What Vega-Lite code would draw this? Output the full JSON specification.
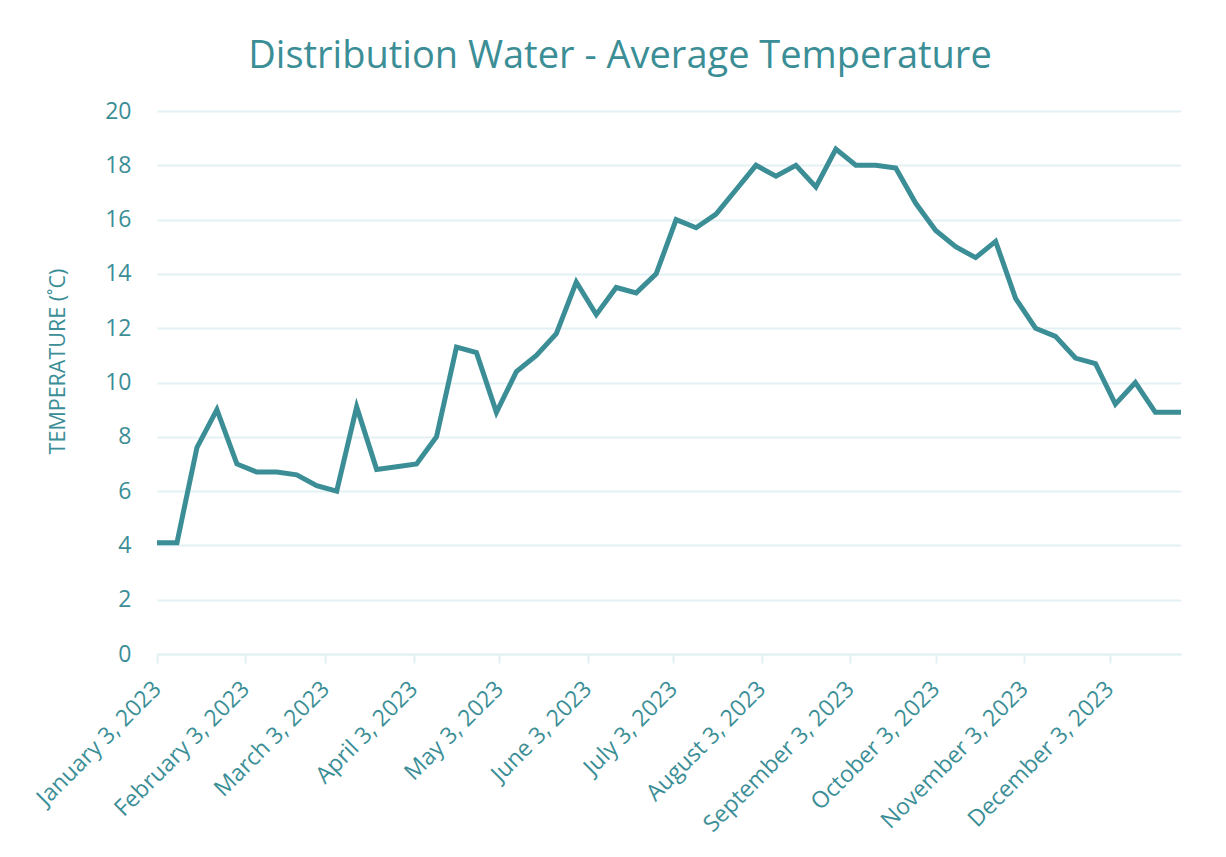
{
  "$schema": "https://vega.github.io/schema/vega-lite/v6.json",
  "autosize": "none",
  "width": 1024,
  "height": 543,
  "padding": {"left": 157, "top": 111, "right": 45, "bottom": 203},
  "background": "white",
  "title": {
    "text": "Distribution Water - Average Temperature",
    "font": "Open Sans",
    "fontSize": 38,
    "fontWeight": "normal",
    "color": "#3b8e96",
    "anchor": "middle",
    "baseline": "alphabetic",
    "offset": -6,
    "dx": -49
  },
  "data": {
    "values": [
      {"date": "2023-01-03T00:00:00", "temp": 4.1},
      {"date": "2023-01-10T00:00:00", "temp": 4.1},
      {"date": "2023-01-17T00:00:00", "temp": 7.6},
      {"date": "2023-01-24T00:00:00", "temp": 9.0},
      {"date": "2023-01-31T00:00:00", "temp": 7.0},
      {"date": "2023-02-07T00:00:00", "temp": 6.7},
      {"date": "2023-02-14T00:00:00", "temp": 6.7},
      {"date": "2023-02-21T00:00:00", "temp": 6.6},
      {"date": "2023-02-28T00:00:00", "temp": 6.2},
      {"date": "2023-03-07T00:00:00", "temp": 6.0},
      {"date": "2023-03-14T00:00:00", "temp": 9.1},
      {"date": "2023-03-21T00:00:00", "temp": 6.8},
      {"date": "2023-03-28T00:00:00", "temp": 6.9},
      {"date": "2023-04-04T00:00:00", "temp": 7.0},
      {"date": "2023-04-11T00:00:00", "temp": 8.0},
      {"date": "2023-04-18T00:00:00", "temp": 11.3},
      {"date": "2023-04-25T00:00:00", "temp": 11.1},
      {"date": "2023-05-02T00:00:00", "temp": 8.9},
      {"date": "2023-05-09T00:00:00", "temp": 10.4},
      {"date": "2023-05-16T00:00:00", "temp": 11.0},
      {"date": "2023-05-23T00:00:00", "temp": 11.8},
      {"date": "2023-05-30T00:00:00", "temp": 13.7},
      {"date": "2023-06-06T00:00:00", "temp": 12.5},
      {"date": "2023-06-13T00:00:00", "temp": 13.5},
      {"date": "2023-06-20T00:00:00", "temp": 13.3},
      {"date": "2023-06-27T00:00:00", "temp": 14.0},
      {"date": "2023-07-04T00:00:00", "temp": 16.0},
      {"date": "2023-07-11T00:00:00", "temp": 15.7},
      {"date": "2023-07-18T00:00:00", "temp": 16.2},
      {"date": "2023-07-25T00:00:00", "temp": 17.1},
      {"date": "2023-08-01T00:00:00", "temp": 18.0},
      {"date": "2023-08-08T00:00:00", "temp": 17.6},
      {"date": "2023-08-15T00:00:00", "temp": 18.0},
      {"date": "2023-08-22T00:00:00", "temp": 17.2},
      {"date": "2023-08-29T00:00:00", "temp": 18.6},
      {"date": "2023-09-05T00:00:00", "temp": 18.0},
      {"date": "2023-09-12T00:00:00", "temp": 18.0},
      {"date": "2023-09-19T00:00:00", "temp": 17.9},
      {"date": "2023-09-26T00:00:00", "temp": 16.6},
      {"date": "2023-10-03T00:00:00", "temp": 15.6},
      {"date": "2023-10-10T00:00:00", "temp": 15.0},
      {"date": "2023-10-17T00:00:00", "temp": 14.6},
      {"date": "2023-10-24T00:00:00", "temp": 15.2},
      {"date": "2023-10-31T00:00:00", "temp": 13.1},
      {"date": "2023-11-07T00:00:00", "temp": 12.0},
      {"date": "2023-11-14T00:00:00", "temp": 11.7},
      {"date": "2023-11-21T00:00:00", "temp": 10.9},
      {"date": "2023-11-28T00:00:00", "temp": 10.7},
      {"date": "2023-12-05T00:00:00", "temp": 9.2},
      {"date": "2023-12-12T00:00:00", "temp": 10.0},
      {"date": "2023-12-19T00:00:00", "temp": 8.9},
      {"date": "2023-12-28T00:00:00", "temp": 8.9}
    ]
  },
  "mark": {"type": "line", "color": "#3b8e96", "strokeWidth": 5, "strokeJoin": "miter", "strokeCap": "butt"},
  "encoding": {
    "x": {
      "field": "date",
      "type": "temporal",
      "scale": {"domain": [{"year": 2023, "month": 1, "date": 3}, {"year": 2023, "month": 12, "date": 28}]},
      "axis": {
        "title": null,
        "values": [
          {"year": 2023, "month": 1, "date": 3},
          {"year": 2023, "month": 2, "date": 3},
          {"year": 2023, "month": 3, "date": 3},
          {"year": 2023, "month": 4, "date": 3},
          {"year": 2023, "month": 5, "date": 3},
          {"year": 2023, "month": 6, "date": 3},
          {"year": 2023, "month": 7, "date": 3},
          {"year": 2023, "month": 8, "date": 3},
          {"year": 2023, "month": 9, "date": 3},
          {"year": 2023, "month": 10, "date": 3},
          {"year": 2023, "month": 11, "date": 3},
          {"year": 2023, "month": 12, "date": 3}
        ],
        "format": "%B %-d, %Y",
        "labelAngle": -45,
        "labelAlign": "right",
        "labelBaseline": "middle",
        "labelFont": "Open Sans",
        "labelFontSize": 23,
        "labelColor": "#3b8e96",
        "labelPadding": 22,
        "labelLimit": 500,
        "labelOverlap": false,
        "labelFlush": false,
        "grid": false,
        "domainColor": "#e3f1f4",
        "domainWidth": 2,
        "tickColor": "#e3f1f4",
        "tickWidth": 2,
        "tickSize": 9
      }
    },
    "y": {
      "field": "temp",
      "type": "quantitative",
      "scale": {"domain": [0, 20], "nice": false},
      "axis": {
        "title": "TEMPERATURE (˚C)",
        "titleFont": "Open Sans",
        "titleFontSize": 21.5,
        "titleFontWeight": "normal",
        "titleColor": "#3b8e96",
        "titleX": -99,
        "titleY": 250,
        "titleAlign": "center",
        "titleBaseline": "middle",
        "titleAngle": -90,
        "values": [0, 2, 4, 6, 8, 10, 12, 14, 16, 18, 20],
        "labelFont": "Open Sans",
        "labelFontSize": 23,
        "labelColor": "#3b8e96",
        "labelPadding": 26,
        "ticks": false,
        "domain": false,
        "gridColor": "#e3f1f4",
        "gridWidth": 2
      }
    }
  },
  "config": {
    "view": {"stroke": null}
  }
}
